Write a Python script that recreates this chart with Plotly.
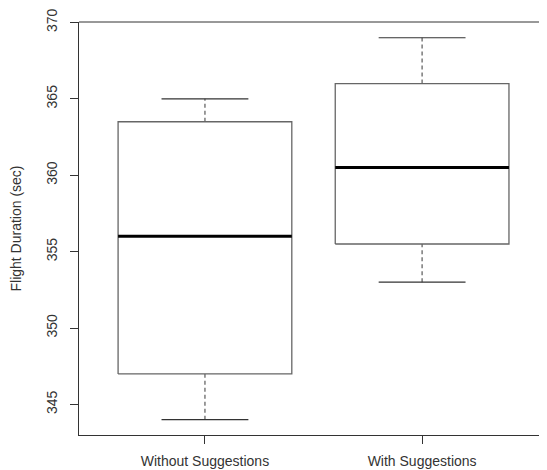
import plotly.graph_objects as go

categories = ["Without Suggestions", "With Suggestions"]
lower_whisker = [344, 353]
q1 = [347, 355.5]
median = [356, 360.5]
q3 = [363.5, 366]
upper_whisker = [365, 369]
y_ticks = [345, 350, 355, 360, 365, 370]

pos = [1, 2]
half_box = 0.4
half_cap = 0.2
box_col = "#666666"
axis_col = "#333333"

fig = go.Figure()
for i, p in enumerate(pos):
    fig.add_trace(go.Scatter(
        x=[p - half_box, p + half_box, p + half_box, p - half_box, p - half_box],
        y=[q1[i], q1[i], q3[i], q3[i], q1[i]],
        mode="lines", line=dict(color=box_col, width=1.3),
        hoverinfo="skip", showlegend=False))
    fig.add_trace(go.Scatter(
        x=[p, p, None, p, p],
        y=[lower_whisker[i], q1[i], None, q3[i], upper_whisker[i]],
        mode="lines", line=dict(color=box_col, width=1.3, dash="4px,3px"),
        hoverinfo="skip", showlegend=False))
    fig.add_trace(go.Scatter(
        x=[p - half_cap, p + half_cap, None, p - half_cap, p + half_cap],
        y=[lower_whisker[i], lower_whisker[i], None, upper_whisker[i], upper_whisker[i]],
        mode="lines", line=dict(color="#333333", width=1.2),
        hoverinfo="skip", showlegend=False))
    fig.add_trace(go.Scatter(
        x=[p - half_box, p + half_box],
        y=[median[i], median[i]],
        mode="lines", line=dict(color="black", width=3),
        hoverinfo="skip", showlegend=False))

font = dict(family="Liberation Sans, Arial, sans-serif", size=14, color="#333333")

fig.update_layout(
    width=547, height=470,
    margin=dict(l=71, r=0, t=12, b=43),
    paper_bgcolor="white", plot_bgcolor="white",
    font=font,
    xaxis=dict(
        range=[0.42, 2.612], tickvals=pos, ticktext=categories,
        showgrid=False, zeroline=False, showline=True, linecolor=axis_col, linewidth=1,
        ticks="outside", ticklen=8, tickcolor=axis_col, tickwidth=1,
        tickfont=font, ticklabelstandoff=5, ticklabeloverflow="allow",
    ),
    yaxis=dict(
        range=[343, 370.03], tickvals=y_ticks,
        showgrid=False, zeroline=False, showline=True, linecolor=axis_col, linewidth=1,
        ticks="outside", ticklen=8, tickcolor=axis_col, tickwidth=1,
        tickangle=-90, tickfont=font, ticklabelstandoff=7, ticklabeloverflow="allow",
        title=dict(text="Flight Duration (sec)", font=font, standoff=22),
    ),
    shapes=[dict(type="line", xref="paper", yref="paper", x0=0, x1=1, y0=1, y1=1,
                 line=dict(color=axis_col, width=1))],
)

fig.write_html("out.html")
